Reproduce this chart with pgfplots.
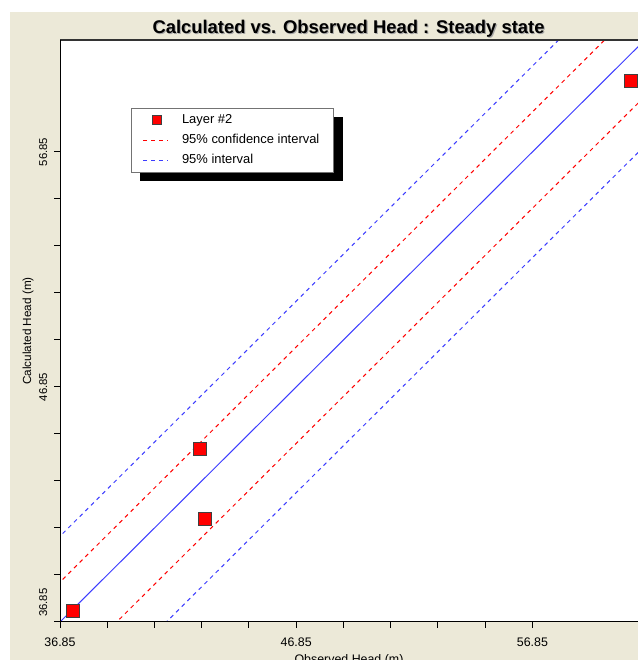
\documentclass[border=0pt]{standalone}
\usepackage{pgfplots}
\pgfplotsset{compat=1.18}
\usepackage{fontspec}
\setmainfont{Liberation Sans}
\definecolor{bgbeige}{RGB}{236,233,216}
\definecolor{lineblue}{RGB}{60,60,255}
\definecolor{mred}{RGB}{255,0,0}
\pgfplotsset{
  shortline/.style={legend image code/.code={\draw[##1, line width=0.75pt] (0pt,0pt) -- (18.75pt,0pt);}},
  sqlegend/.style={legend image code/.code={\draw[mark=square*, mark size=3.4pt, mark options={fill=mred, draw=black!75, line width=0.6pt}] plot coordinates {(10.4pt,0pt)};}},
}
\begin{document}
\begin{tikzpicture}
\useasboundingbox (0pt,0pt) rectangle (478.5pt,495pt);
\fill[white] (0pt,0pt) rectangle (478.5pt,495pt);
\fill[bgbeige] (7.5pt,0pt) rectangle (478.5pt,486pt);
\node[text=black!35, font=\bfseries\fontsize{13.8}{16}\selectfont] at (262.2pt,472.7pt) {Calculated vs. Observed Head : Steady state};
\node[text=black, font=\bfseries\fontsize{13.8}{16}\selectfont] at (261.4pt,473.5pt) {Calculated vs. Observed Head : Steady state};
\begin{axis}[
  at={(45pt,28.5pt)}, anchor=south west,
  scale only axis, width=433.5pt, height=436.5pt,
  xmin=36.85, xmax=61.32, ymin=36.85, ymax=61.61,
  axis background/.style={fill=white},
  axis line style={draw=none},
  clip=true,
  xtick={36.85,46.85,56.85}, xticklabels={36.85,46.85,56.85},
  ytick={36.85,46.85,56.85}, yticklabels={\hspace*{29pt}36.85,46.85,56.85},
  minor x tick num=4, minor y tick num=4,
  xtick pos=bottom, ytick pos=left,
  tick align=outside,
  major tick length=4.5pt, minor tick length=4.5pt,
  tick style={black, line width=0.75pt},
  /pgf/number format/assume math mode=true,
  xticklabel style={font=\fontsize{9.3}{11}\selectfont, anchor=north, yshift=-3.5pt},
  yticklabel style={font=\fontsize{8.5}{10}\selectfont, rotate=90, anchor=south, yshift=1.5pt},
  xlabel={Observed Head (m)},
  ylabel={Calculated Head (m)},
  xlabel style={font=\fontsize{9.3}{11}\selectfont, at={(axis description cs:0.5,0)}, anchor=center, yshift=-28.5pt},
  ylabel style={font=\fontsize{8.8}{10}\selectfont, at={(axis description cs:0,0.5)}, anchor=center, yshift=24pt},
  legend style={at={(0.1228,0.8832)}, anchor=north west, draw=black!55, line width=0.6pt, fill=white,
    font=\fontsize{9.7}{11}\selectfont,
    inner xsep=8.5pt, inner ysep=2.75pt, row sep=2.5pt, column sep=8pt},
  legend cell align=left,
]
\fill[black] (rel axis cs:0.1384,0.8677) rectangle (rel axis cs:0.4896,0.7577);
\addplot[draw=lineblue, line width=0.75pt, forget plot] coordinates {(30,30) (70,70)};
\addplot[only marks, mark=square*, mark size=4.9pt, mark options={fill=mred, draw=black!75, line width=0.75pt}, sqlegend]
  coordinates {(37.40,37.32) (42.78,44.21) (43.00,41.23) (61.04,59.87)};
\addlegendentry{Layer \#2}
\addplot[draw=mred, line width=0.75pt, dash pattern=on 3pt off 3pt, shortline]
  coordinates {(30,31.7) (70,71.7)};
\addlegendentry{95\% confidence interval}
\addplot[draw=lineblue, line width=0.75pt, dash pattern=on 3pt off 3pt, shortline]
  coordinates {(30,33.65) (70,73.65)};
\addlegendentry{95\% interval}
\addplot[draw=mred, line width=0.75pt, dash pattern=on 3pt off 3pt, forget plot] coordinates {(30,27.6) (70,67.6)};
\addplot[draw=lineblue, line width=0.75pt, dash pattern=on 3pt off 3pt, forget plot] coordinates {(30,25.5) (70,65.5)};
\draw[black!80, line width=1.5pt] (rel axis cs:0,1) -- (rel axis cs:1.02,1);
\draw[black, line width=1.5pt] (rel axis cs:0,1) -- (rel axis cs:0,0) -- (rel axis cs:1.02,0);
\end{axis}
\end{tikzpicture}
\end{document}
